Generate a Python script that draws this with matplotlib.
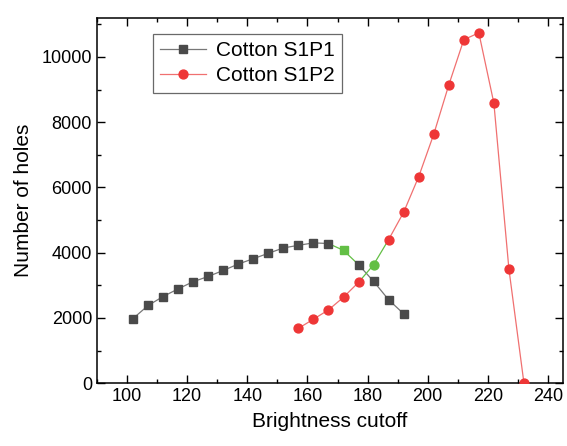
import matplotlib
matplotlib.use("Agg")
import matplotlib.pyplot as plt
from matplotlib.ticker import MultipleLocator

plt.rcParams["font.family"] = ["Liberation Sans", "DejaVu Sans"]

# --- Donnees ---
x_p1 = [102, 107, 112, 117, 122, 127, 132, 137, 142, 147,
        152, 157, 162, 167, 172, 177, 182, 187, 192]
y_p1 = [1980, 2380, 2655, 2890, 3110, 3270, 3455, 3650, 3815, 3980,
        4145, 4225, 4300, 4280, 4070, 3630, 3120, 2555, 2125]

x_p2 = [157, 162, 167, 172, 177, 182, 187, 192, 197, 202,
        207, 212, 217, 222, 227, 232]
y_p2 = [1680, 1960, 2245, 2635, 3090, 3630, 4400, 5240, 6330, 7630,
        9140, 10530, 10740, 8585, 3500, 0]

# points mis en evidence (vert)
hl_p1 = 172
hl_p2 = 182

GREEN = "#63bf45"
GRAY = "#4a4a4a"
RED = "#ee3636"

fig = plt.figure(figsize=(5.67, 4.46), dpi=100)
ax = fig.add_axes([0.171, 0.141, 0.822, 0.819])


def draw_series(xs, ys, hl, marker, mcolor, lcolor, label, ms):
    i = xs.index(hl)
    # segments normaux
    ax.plot(xs[:i], ys[:i], color=lcolor, lw=0.9, zorder=2)
    ax.plot(xs[i + 1:], ys[i + 1:], color=lcolor, lw=0.9, zorder=2)
    # segments verts autour du point
    ax.plot(xs[i - 1:i + 2], ys[i - 1:i + 2], color=GREEN, lw=0.9, zorder=2)
    other = [k for k in range(len(xs)) if k != i]
    ax.plot([xs[k] for k in other], [ys[k] for k in other], ls="none",
            marker=marker, ms=ms, color=mcolor, zorder=3)
    ax.plot([xs[i]], [ys[i]], ls="none", marker=marker, ms=ms,
            color=GREEN, zorder=3)
    # entree de legende
    ax.plot([], [], color=lcolor, lw=0.9, marker=marker, ms=ms,
            mfc=mcolor, mec=mcolor, label=label)


draw_series(x_p1, y_p1, hl_p1, "s", GRAY, "#777777", "Cotton S1P1", 5.6)
draw_series(x_p2, y_p2, hl_p2, "o", RED, "#f07070", "Cotton S1P2", 6.4)

ax.set_xlim(90, 245)
ax.set_ylim(0, 11200)
ax.xaxis.set_major_locator(MultipleLocator(20))
ax.xaxis.set_minor_locator(MultipleLocator(10))
ax.yaxis.set_major_locator(MultipleLocator(2000))
ax.yaxis.set_minor_locator(MultipleLocator(1000))
ax.tick_params(which="both", direction="in", top=True, right=True,
               labelsize=13, width=1)
ax.tick_params(which="major", length=5.5)
ax.tick_params(which="minor", length=3)
for s in ax.spines.values():
    s.set_linewidth(1.1)

ax.set_xlabel("Brightness cutoff", fontsize=15, labelpad=5)
ax.set_ylabel("Number of holes", fontsize=15, labelpad=6)

leg = ax.legend(loc="upper left", bbox_to_anchor=(0.12, 0.956), fontsize=15,
                frameon=True, fancybox=False, edgecolor="#444444",
                handlelength=2.2, borderpad=0.35, labelspacing=0.3,
                handletextpad=0.5, borderaxespad=0)
leg.get_frame().set_linewidth(0.9)

fig.savefig("out.png", dpi=100)
